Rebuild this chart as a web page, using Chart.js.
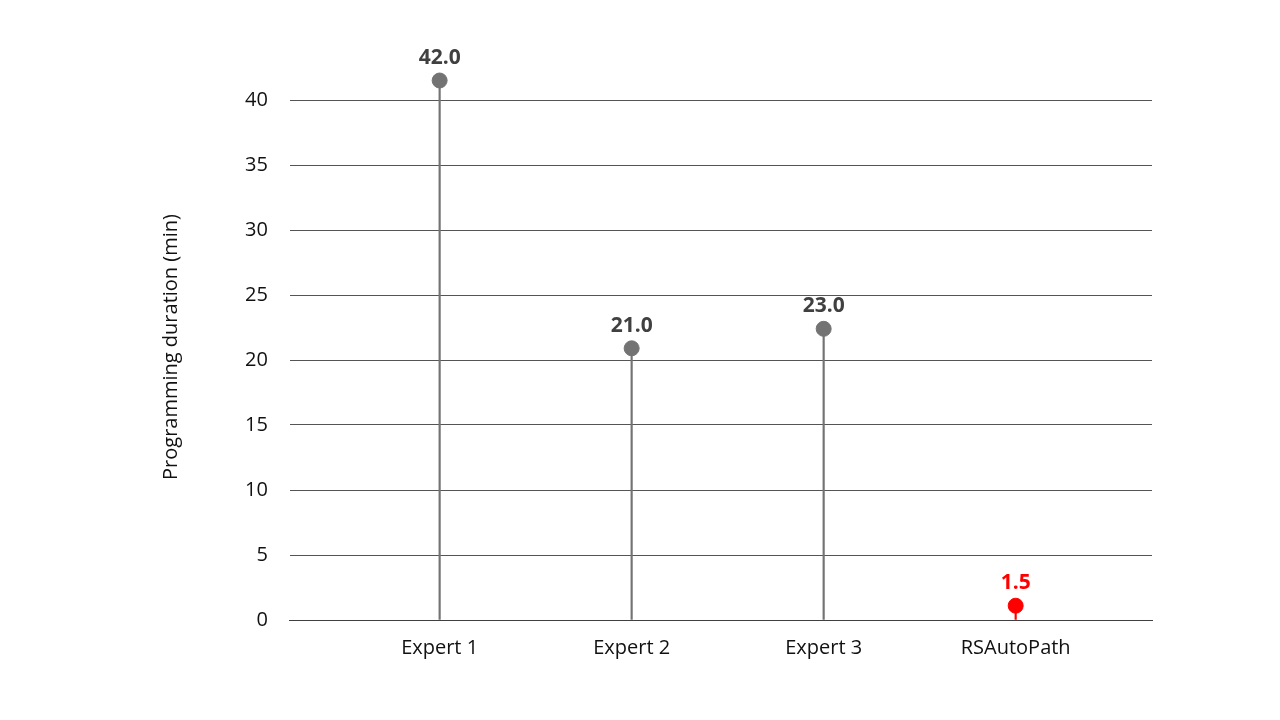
<!DOCTYPE html>
<html>
<head>
<meta charset="utf-8">
<script src="https://cdn.jsdelivr.net/npm/chart.js@4"></script>
<style>
  html, body { margin: 0; padding: 0; background: #fff; }
  #wrap { width: 1280px; height: 720px; }
</style>
</head>
<body>
<div id="wrap"><canvas id="chart"></canvas></div>
<script>
var categories = ['Expert 1', 'Expert 2', 'Expert 3', 'RSAutoPath'];
var values = [41.5, 20.9, 22.4, 1.1];
var valueLabels = ['42.0', '21.0', '23.0', '1.5'];
var pointColors = ['#737373', '#737373', '#737373', '#ff0000'];
var labelColors = ['#404040', '#404040', '#404040', '#ff0000'];
var yTicks = [0, 5, 10, 15, 20, 25, 30, 35, 40];

var xy = values.map(function (v, i) { return { x: i, y: v }; });

var valueLabelPlugin = {
    id: 'valueLabels',
    afterDatasetsDraw: function (chart) {
        var meta = chart.getDatasetMeta(1);
        var ctx = chart.ctx;
        ctx.save();
        ctx.font = 'bold 21px "Open Sans", sans-serif';
        ctx.textAlign = 'center';
        ctx.textBaseline = 'bottom';
        meta.data.forEach(function (pt, i) {
            ctx.fillStyle = labelColors[i];
            ctx.fillText(valueLabels[i], pt.x, pt.y - 12);
        });
        ctx.restore();
    }
};

new Chart(document.getElementById('chart').getContext('2d'), {
    type: 'bar',
    data: {
        datasets: [{
            type: 'bar',
            data: xy,
            backgroundColor: pointColors,
            barThickness: 1.5,
            order: 2
        }, {
            type: 'scatter',
            data: xy,
            backgroundColor: pointColors,
            borderColor: pointColors,
            pointRadius: 7.5,
            pointHoverRadius: 7.5,
            clip: false,
            order: 1
        }]
    },
    options: {
        responsive: true,
        maintainAspectRatio: false,
        animation: false,
        layout: { padding: { top: 74, right: 128, bottom: 44, left: 155 } },
        plugins: { legend: { display: false }, tooltip: { enabled: false } },
        scales: {
            x: {
                type: 'linear',
                min: -0.78,
                max: 3.71,
                offset: false,
                grid: { display: false, drawTicks: false, offset: false },
                border: { color: '#404040' },
                afterBuildTicks: function (axis) {
                    axis.ticks = categories.map(function (c, i) { return { value: i }; });
                },
                ticks: {
                    padding: 16,
                    color: '#111',
                    font: { size: 20, family: '"Open Sans", sans-serif' },
                    callback: function (v) { return categories[v]; }
                }
            },
            y: {
                min: 0,
                max: 42,
                title: {
                    display: true,
                    text: 'Programming duration (min)',
                    color: '#111',
                    font: { size: 20, family: '"Open Sans", sans-serif' },
                    padding: { bottom: 40 }
                },
                afterBuildTicks: function (axis) {
                    axis.ticks = yTicks.map(function (v) { return { value: v }; });
                },
                grid: { color: '#555', drawTicks: false },
                border: { display: false },
                ticks: {
                    padding: 22,
                    color: '#111',
                    font: { size: 20, family: '"Open Sans", sans-serif' }
                }
            }
        }
    },
    plugins: [valueLabelPlugin]
});
</script>
</body>
</html>
